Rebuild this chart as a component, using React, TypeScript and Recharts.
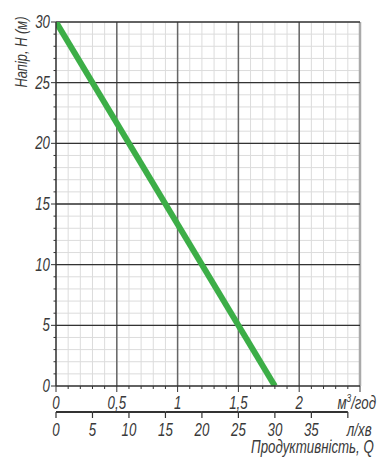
import React from "react";
import {
  ComposedChart,
  Line,
  XAxis,
  YAxis,
  CartesianGrid,
  ReferenceLine,
  Label,
} from "recharts";

// характеристика насоса: подача (м³/год) -> напір (м)
const flowM3 = [0, 1.8];
const headM = [30, 0];

const m3Labels = ["0", "0,5", "1", "1,5", "2"];
const m3Major = [0.5, 1, 1.5, 2];
const lminTicks = [0, 5, 10, 15, 20, 25, 30, 35, 40];
const headMajor = [5, 10, 15, 20, 25, 30];

const FLOW_MAX = 2.5;
const LMIN_MAX = (FLOW_MAX * 1000) / 60;
const HEAD_MAX = 30;

const W = 385;
const H = 466;
const MARGIN = { top: 22, right: 25, bottom: 4, left: 0 };
const Y_W = 56;
const PLOT_W = W - MARGIN.right - MARGIN.left - Y_W;

const FONT = "'Liberation Sans', Arial, sans-serif";
const SX = 0.76; // вузький креслярський шрифт
const INK = "#3a3a3a";
const GREEN = "#3cae47";

const data = flowM3.map((q, i) => ({ q, lmin: (q * 1000) / 60, h: headM[i] }));

// мінорні поділки: кожні 0,1 м³/год і кожен 1 м
const flowTicks = Array.from({ length: 26 }, (_, i) => i / 10);
const headTicks = Array.from({ length: 31 }, (_, i) => i);

const isHalf = (v: number) => Math.abs(v * 2 - Math.round(v * 2)) < 1e-6;

const T = ({ x, y, anchor = "middle", size = 17.5, rotate = 0, children }: any) => (
  <text
    transform={`translate(${x},${y}) rotate(${rotate}) scale(${SX},1)`}
    textAnchor={anchor}
    fontFamily={FONT}
    fontStyle="italic"
    fontSize={size}
    fill={INK}
  >
    {children}
  </text>
);

const M3Tick = ({ x, y, payload }: any) => {
  const v = payload.value;
  const major = isHalf(v);
  const idx = Math.round(v * 2);
  return (
    <g>
      <line x1={x} x2={x} y1={y} y2={y + (major ? 6 : 3)} stroke="#333" strokeWidth={1} />
      {major && idx < m3Labels.length && (
        <T x={x} y={y + 23}>
          {m3Labels[idx]}
        </T>
      )}
      {Math.abs(v - FLOW_MAX) < 1e-6 && (
        <T x={x + 16} y={y + 23} anchor="end">
          м<tspan fontSize={11} dy={-7}>3</tspan>
          <tspan dy={7}>/год</tspan>
        </T>
      )}
    </g>
  );
};

const LminTick = ({ x, y, payload }: any) => {
  const v = payload.value;
  const last = v === lminTicks[lminTicks.length - 1];
  const seg = (PLOT_W * 5) / LMIN_MAX;
  return (
    <g>
      <line x1={x} x2={x} y1={y} y2={y + 6} stroke="#333" strokeWidth={1.2} />
      {!last && <line x1={x} x2={x + seg} y1={y} y2={y} stroke="#333" strokeWidth={2} />}
      {last ? (
        <>
          <T x={x - 1} y={y + 24} anchor="start">
            л/хв
          </T>
          <T x={x + 26} y={y + 41} anchor="end">
            Продуктивність, Q
          </T>
        </>
      ) : (
        <T x={x} y={y + 24}>
          {v}
        </T>
      )}
    </g>
  );
};

const HeadTick = ({ x, y, payload }: any) => {
  const v = payload.value;
  const major = v % 5 === 0;
  return (
    <g>
      <line x1={x} x2={x - (major ? 5 : 2.5)} y1={y} y2={y} stroke="#333" strokeWidth={1} />
      {major && (
        <T x={x - 6} y={y + 6} anchor="end">
          {v}
        </T>
      )}
    </g>
  );
};

export default function App() {
  return (
    <div style={{ position: "absolute", left: 0, top: 0, background: "#fff" }}>
      <ComposedChart width={W} height={H} data={data} margin={MARGIN}>
        <CartesianGrid stroke="#dcdcdc" strokeWidth={1} />
        <XAxis
          dataKey="q"
          type="number"
          domain={[0, FLOW_MAX]}
          ticks={flowTicks}
          interval={0}
          height={26}
          tickSize={0}
          tickMargin={0}
          tickLine={false}
          axisLine={{ stroke: "#333", strokeWidth: 1.5 }}
          tick={<M3Tick />}
          allowDataOverflow
        />
        <XAxis
          xAxisId="lmin"
          dataKey="lmin"
          type="number"
          domain={[0, LMIN_MAX]}
          ticks={lminTicks}
          interval={0}
          height={50}
          tickSize={0}
          tickMargin={0}
          tickLine={false}
          axisLine={false}
          tick={<LminTick />}
          allowDataOverflow
        />
        <YAxis
          type="number"
          domain={[0, HEAD_MAX]}
          ticks={headTicks}
          interval={0}
          width={Y_W}
          tickSize={0}
          tickMargin={0}
          tickLine={false}
          axisLine={{ stroke: "#333", strokeWidth: 1.5 }}
          tick={<HeadTick />}
          allowDataOverflow
        >
          <Label
            content={() => (
              <T x={27} y={52} rotate={-90} size={17}>
                Напір, H (м)
              </T>
            )}
          />
        </YAxis>
        {m3Major.map((v) => (
          <ReferenceLine key={`vx-${v}`} x={v} stroke="#666" strokeWidth={1.5} />
        ))}
        <ReferenceLine x={FLOW_MAX} stroke="#aaa" strokeWidth={2.5} />
        {headMajor.map((v) => (
          <ReferenceLine key={`hy-${v}`} y={v} stroke="#333" strokeWidth={1.3} />
        ))}
        {/* та сама крива на шкалі л/хв — задає шкалу другої осі */}
        <Line
          xAxisId="lmin"
          dataKey="h"
          type="linear"
          stroke="none"
          dot={false}
          legendType="none"
          isAnimationActive={false}
        />
        <Line
          dataKey="h"
          type="linear"
          stroke={GREEN}
          strokeWidth={6}
          dot={false}
          isAnimationActive={false}
        />
      </ComposedChart>
    </div>
  );
}
